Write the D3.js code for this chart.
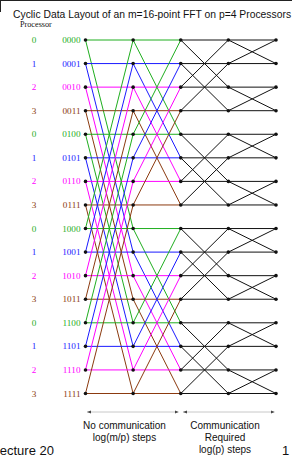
<!DOCTYPE html>
<html>
<head>
<meta charset="utf-8">
<script src="https://cdn.jsdelivr.net/npm/d3@7"></script>
<style>
  body { margin: 0; background: #fff; overflow: hidden; }
  svg { display: block; }
</style>
</head>
<body>
<script>
const titleText = 'Cyclic Data Layout of an m=16-point FFT on p=4 Processors';
const binaryLabels = ['0000', '0001', '0010', '0011', '0100', '0101', '0110', '0111',
                      '1000', '1001', '1010', '1011', '1100', '1101', '1110', '1111'];
const processors = [0, 1, 2, 3, 0, 1, 2, 3, 0, 1, 2, 3, 0, 1, 2, 3];
const procColors = ['#1fae1f', '#1a1aff', '#ff00ff', '#8b3a0f'];
const stageSpans = [8, 4, 2, 1];          // butterfly partner distance per stage
const stageComm = [false, false, true, true];
const noCommLines = ['No communication', 'log(m/p) steps'];
const commLines = ['Communication', 'Required', 'log(p) steps'];

const width = 292, height = 456;

const svg = d3.select('body').append('svg')
  .attr('width', width)
  .attr('height', height);

// slide frame remnant
svg.append('line')
  .attr('x1', 0).attr('x2', width).attr('y1', 0.5).attr('y2', 0.5)
  .attr('stroke', '#222');
svg.append('line')
  .attr('x1', 0.5).attr('x2', 0.5).attr('y1', 0).attr('y2', 12)
  .attr('stroke', '#222');

svg.append('text')
  .attr('x', 13)
  .attr('y', 18)
  .attr('font-family', 'Liberation Sans, Arial, sans-serif')
  .attr('font-size', 10.35)
  .attr('fill', '#111')
  .text(titleText);

const yScale = d3.scalePoint()
  .domain(d3.range(binaryLabels.length))
  .range([40, 393.5]);

const xScale = d3.scalePoint()
  .domain(d3.range(stageSpans.length + 1))
  .range([85.5, 276]);

svg.append('text')
  .attr('x', 20)
  .attr('y', 27)
  .attr('font-family', 'Liberation Serif, Times New Roman, serif')
  .attr('font-size', 8.2)
  .attr('fill', '#111')
  .text('Processor');

const labels = svg.append('g').attr('class', 'labels')
  .attr('font-family', 'Liberation Serif, Times New Roman, serif')
  .attr('font-size', 9.2);

labels.selectAll('text.proc')
  .data(binaryLabels)
  .enter()
  .append('text')
  .attr('class', 'proc')
  .attr('x', 34)
  .attr('y', (d, i) => yScale(i) + 3)
  .attr('text-anchor', 'middle')
  .attr('fill', (d, i) => procColors[processors[i]])
  .text((d, i) => processors[i]);

labels.selectAll('text.bin')
  .data(binaryLabels)
  .enter()
  .append('text')
  .attr('class', 'bin')
  .attr('x', 80.5)
  .attr('y', (d, i) => yScale(i) + 3)
  .attr('text-anchor', 'end')
  .attr('fill', (d, i) => procColors[processors[i]])
  .text((d) => d);

// butterfly edges
const edges = [];
stageSpans.forEach((span, s) => {
  binaryLabels.forEach((d, i) => {
    edges.push({ stage: s, from: i, to: i });
    edges.push({ stage: s, from: i, to: i ^ span });
  });
});

svg.append('g')
  .attr('class', 'edges')
  .selectAll('line')
  .data(edges)
  .enter()
  .append('line')
  .attr('x1', (d) => xScale(d.stage))
  .attr('y1', (d) => yScale(d.from))
  .attr('x2', (d) => xScale(d.stage + 1))
  .attr('y2', (d) => yScale(d.to))
  .attr('stroke', (d) => stageComm[d.stage] ? '#111' : procColors[processors[d.from]])
  .attr('stroke-width', 1);

// nodes
const nodes = [];
d3.range(stageSpans.length + 1).forEach((c) => {
  binaryLabels.forEach((d, i) => nodes.push({ col: c, row: i }));
});

svg.append('g')
  .attr('class', 'nodes')
  .selectAll('circle')
  .data(nodes)
  .enter()
  .append('circle')
  .attr('cx', (d) => xScale(d.col))
  .attr('cy', (d) => yScale(d.row))
  .attr('r', 1.8)
  .attr('fill', '#111');

// span arrows
const defs = svg.append('defs');
defs.append('marker')
  .attr('id', 'ah')
  .attr('viewBox', '0 0 10 10')
  .attr('refX', 10).attr('refY', 5)
  .attr('markerWidth', 4).attr('markerHeight', 4)
  .attr('orient', 'auto-start-reverse')
  .append('path')
  .attr('d', 'M0,1L10,5L0,9Z')
  .attr('fill', '#444');

const arrowY = 412;
const spans = [[87, 178.5], [183, 274.5]];
svg.append('g')
  .selectAll('line')
  .data(spans)
  .enter()
  .append('line')
  .attr('x1', (d) => d[0]).attr('x2', (d) => d[1])
  .attr('y1', arrowY).attr('y2', arrowY)
  .attr('stroke', '#c8c8c8')
  .attr('stroke-width', 1)
  .attr('marker-start', 'url(#ah)')
  .attr('marker-end', 'url(#ah)');

const notes = svg.append('g')
  .attr('font-family', 'Liberation Sans, Arial, sans-serif')
  .attr('font-size', 10)
  .attr('fill', '#111')
  .attr('text-anchor', 'middle');

notes.selectAll('text.nc')
  .data(noCommLines)
  .enter()
  .append('text')
  .attr('class', 'nc')
  .attr('x', 124.5)
  .attr('y', (d, i) => 429 + i * 12)
  .text((d) => d);

notes.selectAll('text.cr')
  .data(commLines)
  .enter()
  .append('text')
  .attr('class', 'cr')
  .attr('x', 225)
  .attr('y', (d, i) => 429 + i * 12)
  .text((d) => d);

svg.append('text')
  .attr('x', -7.5)
  .attr('y', 455)
  .attr('font-family', 'Liberation Sans, Arial, sans-serif')
  .attr('font-size', 13)
  .attr('fill', '#111')
  .text('Lecture 20');

svg.append('text')
  .attr('x', 282)
  .attr('y', 455)
  .attr('font-family', 'Liberation Sans, Arial, sans-serif')
  .attr('font-size', 13)
  .attr('fill', '#111')
  .text('1');
</script>
</body>
</html>
